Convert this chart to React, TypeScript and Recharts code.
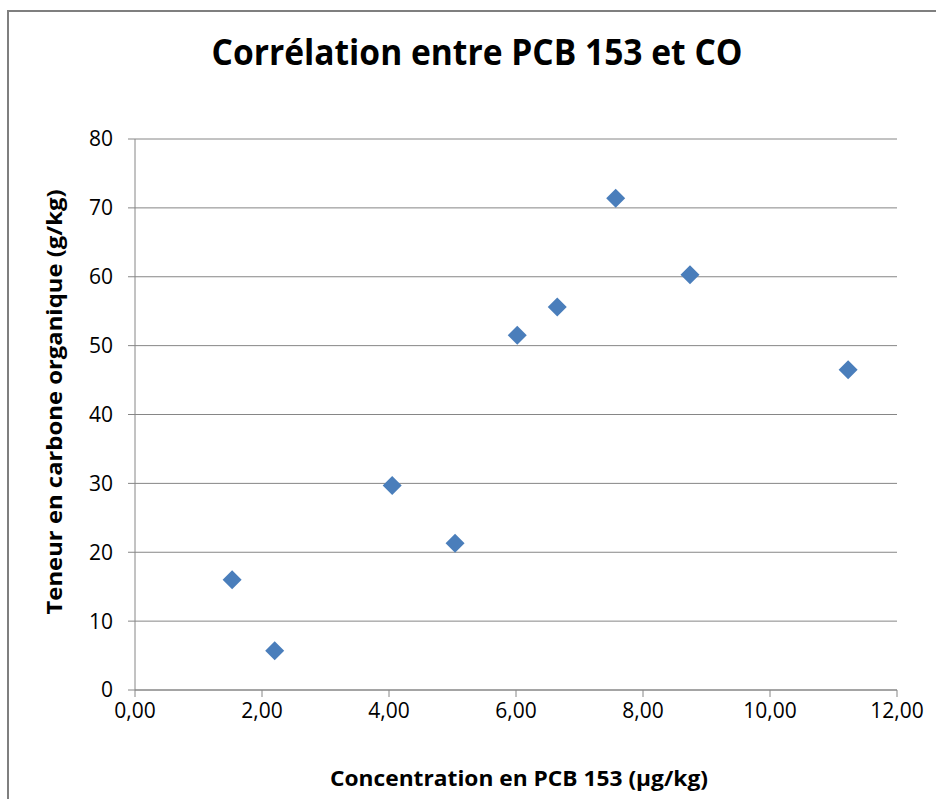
import React from "react";
import { ScatterChart, Scatter, XAxis, YAxis, CartesianGrid } from "recharts";

const pcbConcentration = [1.53, 2.2, 4.05, 5.04, 6.02, 6.65, 7.57, 8.74, 11.23];
const organicCarbon = [16.0, 5.7, 29.7, 21.3, 51.5, 55.6, 71.4, 60.3, 46.5];
const xTicks = [0, 2, 4, 6, 8, 10, 12];
const yTicks = [0, 10, 20, 30, 40, 50, 60, 70, 80];

const title = "Corrélation entre PCB 153 et CO";
const xTitle = "Concentration  en PCB 153 (µg/kg)";
const yTitle = "Teneur en carbone organique (g/kg)";

const data = pcbConcentration.map((x, i) => ({ x, y: organicCarbon[i] }));

const GRAY = "#868686";
const BLUE = "#4A7EBB";
const FONT = "'Open Sans', 'Liberation Sans', sans-serif";
const TITLE_FONT = "'Liberation Sans Narrow', 'Open Sans', sans-serif";

const Diamond = (props: any) => {
  const { cx, cy } = props;
  const r = 9.5;
  return (
    <polygon
      points={`${cx},${cy - r} ${cx + r},${cy} ${cx},${cy + r} ${cx - r},${cy}`}
      fill={BLUE}
    />
  );
};

export default function App() {
  return (
    <div style={{ position: "absolute", left: 0, top: 0, width: 936, height: 799, background: "#fff", overflow: "hidden" }}>
      <div
        style={{
          position: "absolute",
          left: 7,
          top: 10,
          width: 1000,
          height: 1000,
          borderLeft: "2px solid #7f7f7f",
          borderTop: "2px solid #7f7f7f",
        }}
      />
      <div style={{ position: "absolute", left: 0, top: 0 }}>
        <ScatterChart
          width={936}
          height={799}
          margin={{ top: 139, right: 39, left: 75, bottom: 69 }}
        >
          <CartesianGrid vertical={false} stroke={GRAY} strokeWidth={1} />
          <XAxis
            type="number"
            dataKey="x"
            domain={[0, 12]}
            ticks={xTicks}
            height={40}
            tickSize={7}
            tickMargin={6}
            axisLine={{ stroke: GRAY }}
            tickLine={{ stroke: GRAY }}
            tickFormatter={(v: number) => v.toFixed(2).replace(".", ",")}
            tick={{ fill: "#000", fontSize: 21, fontFamily: FONT }}
            interval={0}
          />
          <YAxis
            type="number"
            dataKey="y"
            domain={[0, 80]}
            ticks={yTicks}
            width={60}
            tickSize={7}
            tickMargin={15}
            axisLine={{ stroke: GRAY }}
            tickLine={{ stroke: GRAY }}
            tick={{ fill: "#000", fontSize: 21, fontFamily: FONT }}
            interval={0}
          />
          <Scatter data={data} fill={BLUE} shape={Diamond} isAnimationActive={false} />
        </ScatterChart>
      </div>
      <svg width={936} height={799} style={{ position: "absolute", left: 0, top: 0, pointerEvents: "none" }}>
        <text
          x={477}
          y={65}
          textAnchor="middle"
          fontFamily={TITLE_FONT}
          fontWeight="bold"
          fontSize={35}
          textLength={531}
          lengthAdjust="spacingAndGlyphs"
          fill="#000"
        >
          {title}
        </text>
        <text
          x={519}
          y={786}
          textAnchor="middle"
          fontFamily={TITLE_FONT}
          fontWeight="bold"
          fontSize={22}
          textLength={378}
          lengthAdjust="spacingAndGlyphs"
          fill="#000"
        >
          {xTitle}
        </text>
        <text
          x={0}
          y={0}
          transform="translate(62, 402) rotate(-90)"
          textAnchor="middle"
          fontFamily={TITLE_FONT}
          fontWeight="bold"
          fontSize={22}
          textLength={425}
          lengthAdjust="spacingAndGlyphs"
          fill="#000"
        >
          {yTitle}
        </text>
      </svg>
    </div>
  );
}
